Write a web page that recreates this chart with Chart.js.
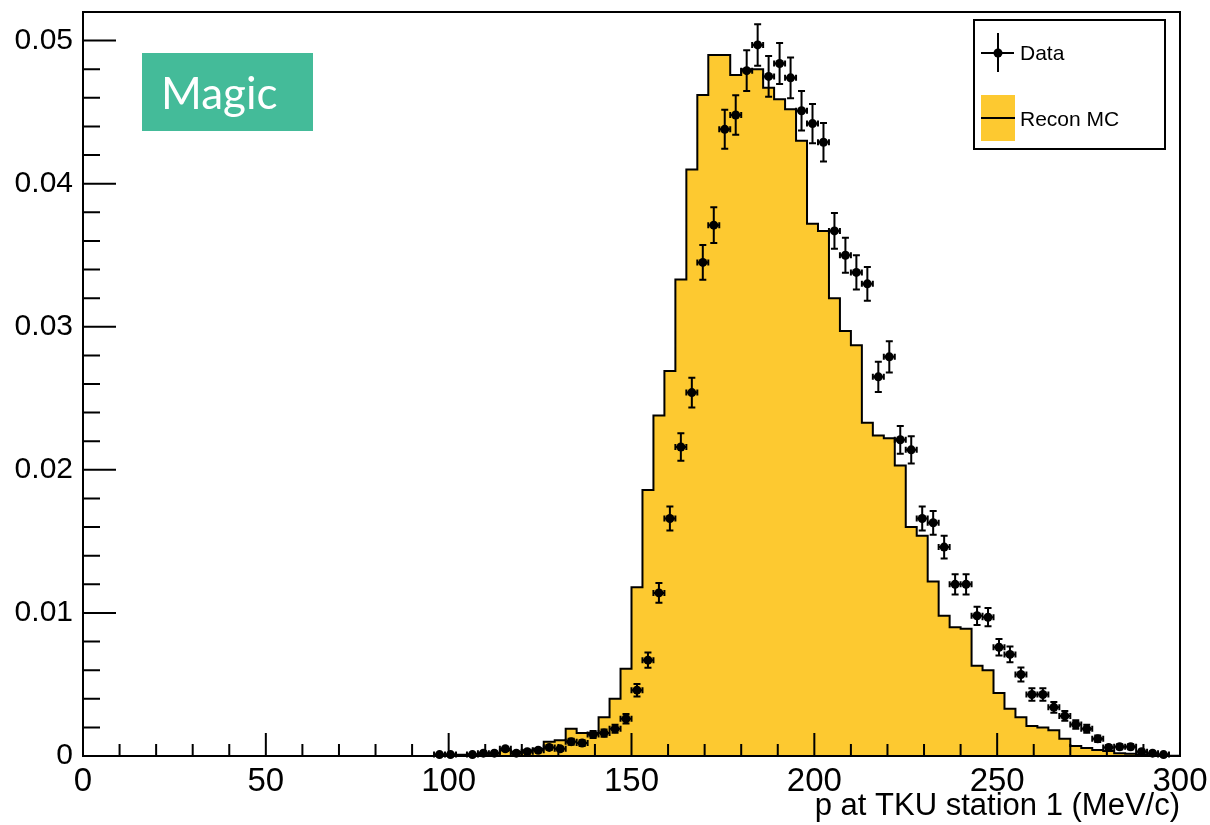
<!DOCTYPE html>
<html>
<head>
<meta charset="utf-8">
<script src="https://cdn.jsdelivr.net/npm/chart.js@4.4.1/dist/chart.umd.min.js"></script>
<style>
  html, body { margin: 0; padding: 0; background: #fff; }
</style>
</head>
<body>
<canvas id="chart" width="1210" height="825"></canvas>
<script>

// MC histogram: left bin edges (last entry closes the final bin) and contents
const mcEdges = [
    96, 99, 102, 105, 108, 111, 114, 117, 120, 123,
    126, 129, 132, 135, 138, 141, 144, 147, 150, 153,
    156, 159, 162, 165, 168, 171, 174, 177, 180, 183,
    186, 189, 192, 195, 198, 201, 204, 207, 210, 213,
    216, 219, 222, 225, 228, 231, 234, 237, 240, 243,
    246, 249, 252, 255, 258, 261, 264, 267, 270, 273,
    276, 279, 282, 285, 288, 291, 294, 297, 300
];
const mcValues = [
    0.00002, 0.00005, 0.00008, 0.0001, 0.00015, 0.0002, 0.0004, 0.0003, 0.0004, 0.0005,
    0.0010, 0.0011, 0.0019, 0.0016, 0.0016, 0.0027, 0.0040, 0.0061, 0.0118, 0.0186,
    0.0238, 0.0269, 0.0333, 0.0410, 0.0462, 0.0490, 0.0490, 0.0476, 0.0480, 0.0480,
    0.0467, 0.0459, 0.0452, 0.0430, 0.0372, 0.0367, 0.0320, 0.0297, 0.0287, 0.0233,
    0.0224, 0.0222, 0.0203, 0.0160, 0.0154, 0.0122, 0.0098, 0.0090, 0.0089, 0.0063,
    0.0060, 0.0044, 0.0033, 0.0027, 0.0021, 0.0020, 0.0018, 0.0012, 0.0007, 0.00056,
    0.00042, 0.00035, 0.0002, 0.00015, 0.0001, 0.00005, 0.00003, 0.00002
];

// Data: bin centres, contents, errors
const dataCenters = [
    97.5, 100.5, 106.5, 109.5, 112.5, 115.5, 118.5, 121.5, 124.5, 127.5,
    130.5, 133.5, 136.5, 139.5, 142.5, 145.5, 148.5, 151.5, 154.5, 157.5,
    160.5, 163.5, 166.5, 169.5, 172.5, 175.5, 178.5, 181.5, 184.5, 187.5,
    190.5, 193.5, 196.5, 199.5, 202.5, 205.5, 208.5, 211.5, 214.5, 217.5,
    220.5, 223.5, 226.5, 229.5, 232.5, 235.5, 238.5, 241.5, 244.5, 247.5,
    250.5, 253.5, 256.5, 259.5, 262.5, 265.5, 268.5, 271.5, 274.5, 277.5,
    280.5, 283.5, 286.5, 289.5, 292.5, 295.5
];
const dataValues = [
    0.0001, 0.0001, 0.0001, 0.0002, 0.0002, 0.0005, 0.0002, 0.0003, 0.0004, 0.0006,
    0.0005, 0.0010, 0.0009, 0.0015, 0.0016, 0.0019, 0.0026, 0.0046, 0.0067, 0.0114,
    0.0166, 0.0216, 0.0254, 0.0345, 0.0371, 0.0438, 0.0448, 0.0479, 0.0497, 0.0475,
    0.0484, 0.0474, 0.0451, 0.0442, 0.0429, 0.0367, 0.0350, 0.0338, 0.0330, 0.0265,
    0.0279, 0.0221, 0.0214, 0.0166, 0.0163, 0.0146, 0.0120, 0.0120, 0.0098, 0.0097,
    0.0076, 0.0071, 0.0057, 0.0043, 0.0043, 0.0034, 0.0028, 0.0022, 0.0019, 0.0012,
    0.0006, 0.00065, 0.00065, 0.0003, 0.0002, 0.0001
];
const dataErrors = [
    0.000065, 0.000065, 0.000065, 0.000092, 0.000092, 0.000145, 0.000092, 0.000113, 0.00013, 0.00016,
    0.000145, 0.00021, 0.0002, 0.00025, 0.00026, 0.00028, 0.00033, 0.00044, 0.00053, 0.00069,
    0.00084, 0.00096, 0.00104, 0.00121, 0.00125, 0.00136, 0.00138, 0.00142, 0.00145, 0.00142,
    0.00143, 0.00142, 0.00138, 0.00137, 0.00135, 0.00125, 0.00122, 0.00119, 0.00118, 0.00106,
    0.00109, 0.00097, 0.00095, 0.00084, 0.00083, 0.00079, 0.00071, 0.00071, 0.00064, 0.00064,
    0.00057, 0.00055, 0.00049, 0.00043, 0.00043, 0.00038, 0.00034, 0.00030, 0.00028, 0.00023,
    0.00016, 0.00017, 0.00017, 0.000113, 0.000092, 0.000065
];
const dataHalfWidth = 1.5;

// axis ticks
const xTicks = [0, 50, 100, 150, 200, 250, 300];
const yTicks = [0, 0.01, 0.02, 0.03, 0.04, 0.05];
const xMinor = Array.from({ length: 31 }, (_, i) => i * 10);
const yMinor = Array.from({ length: 27 }, (_, i) => i * 0.002);
const xTitle = 'p at TKU station 1 (MeV/c)';
const labelData = 'Data';
const labelMC = 'Recon MC';
const tagText = 'Magic';

const yellow = '#fdc930';
const font = '"Liberation Sans", Arial, Helvetica, sans-serif';
Chart.defaults.font.family = font;
Chart.defaults.color = '#000';

// frame and ROOT style inside ticks
const frameTicks = {
    id: 'frameTicks',
    afterDatasetsDraw(chart) {
        const { ctx, chartArea: a, scales: { x, y } } = chart;
        ctx.save();
        ctx.strokeStyle = '#000';
        ctx.lineWidth = 2;
        ctx.beginPath();
        xMinor.forEach(v => {
            const px = x.getPixelForValue(v);
            const len = xTicks.includes(v) ? 23 : 12;
            ctx.moveTo(px, a.bottom);
            ctx.lineTo(px, a.bottom - len);
        });
        yMinor.forEach(v => {
            const py = y.getPixelForValue(v);
            const major = yTicks.some(t => Math.abs(t - v) < 1e-9);
            ctx.moveTo(a.left, py);
            ctx.lineTo(a.left + (major ? 33 : 17), py);
        });
        ctx.stroke();
        ctx.strokeRect(a.left, a.top, a.right - a.left, a.bottom - a.top);
        ctx.restore();
    }
};

// error bars for the data points
const errorBars = {
    id: 'errorBars',
    afterDatasetsDraw(chart) {
        const { ctx, scales: { x, y } } = chart;
        ctx.save();
        ctx.strokeStyle = '#000';
        ctx.lineWidth = 2;
        ctx.beginPath();
        dataCenters.forEach((c, i) => {
            const px = x.getPixelForValue(c);
            const py = y.getPixelForValue(dataValues[i]);
            const yLo = y.getPixelForValue(Math.max(0, dataValues[i] - dataErrors[i]));
            const yHi = y.getPixelForValue(dataValues[i] + dataErrors[i]);
            const xLo = x.getPixelForValue(c - dataHalfWidth);
            const xHi = x.getPixelForValue(c + dataHalfWidth);
            ctx.moveTo(px, yLo); ctx.lineTo(px, yHi);
            ctx.moveTo(px - 3.5, yLo); ctx.lineTo(px + 3.5, yLo);
            ctx.moveTo(px - 3.5, yHi); ctx.lineTo(px + 3.5, yHi);
            ctx.moveTo(xLo, py); ctx.lineTo(xHi, py);
            ctx.moveTo(xLo, py - 3); ctx.lineTo(xLo, py + 3);
            ctx.moveTo(xHi, py - 3); ctx.lineTo(xHi, py + 3);
        });
        ctx.stroke();
        ctx.restore();
    }
};

// green tag and ROOT style legend box
const decorations = {
    id: 'decorations',
    afterDraw(chart) {
        const { ctx } = chart;
        ctx.save();
        ctx.fillStyle = '#44bb99';
        ctx.fillRect(142, 53, 171, 78);
        ctx.fillStyle = '#fff';
        ctx.font = '44px Lato, "Open Sans", sans-serif';
        ctx.textBaseline = 'alphabetic';
        ctx.fillText(tagText, 161, 109);

        ctx.fillStyle = '#fff';
        ctx.fillRect(974, 20, 191, 129);
        ctx.strokeStyle = '#000';
        ctx.lineWidth = 2;
        ctx.strokeRect(974, 20, 191, 129);

        ctx.beginPath();
        ctx.moveTo(981, 53); ctx.lineTo(1014, 53);
        ctx.moveTo(998, 33); ctx.lineTo(998, 72);
        ctx.stroke();
        ctx.beginPath();
        ctx.fillStyle = '#000';
        ctx.arc(998, 53, 4.5, 0, Math.PI * 2);
        ctx.fill();

        ctx.fillStyle = yellow;
        ctx.fillRect(981, 95, 34, 46);
        ctx.beginPath();
        ctx.moveTo(981, 118); ctx.lineTo(1015, 118);
        ctx.stroke();

        ctx.fillStyle = '#000';
        ctx.font = '21px ' + font;
        ctx.textBaseline = 'middle';
        ctx.fillText(labelData, 1020, 54);
        ctx.fillText(labelMC, 1020, 120);
        ctx.restore();
    }
};

const mcPoints = mcEdges.map((e, i) => ({ x: e, y: i < mcValues.length ? mcValues[i] : 0 }));
const dataPoints = dataCenters.map((c, i) => ({ x: c, y: dataValues[i] }));

const ctx = document.getElementById('chart').getContext('2d');
const myChart = new Chart(ctx, {
    type: 'line',
    data: {
        datasets: [{
            label: labelData,
            data: dataPoints,
            showLine: false,
            pointRadius: 4.5,
            pointBackgroundColor: '#000',
            pointBorderWidth: 0,
            clip: false,
            order: 0
        }, {
            label: labelMC,
            data: mcPoints,
            stepped: 'before',
            borderColor: '#000',
            borderWidth: 2,
            backgroundColor: yellow,
            fill: 'origin',
            pointRadius: 0,
            order: 1
        }]
    },
    options: {
        responsive: false,
        animation: false,
        layout: { padding: { top: 12, right: 30, left: 0, bottom: 0 } },
        plugins: {
            legend: { display: false },
            tooltip: { enabled: false }
        },
        scales: {
            x: {
                type: 'linear',
                min: 0,
                max: 300,
                grid: { display: false, drawTicks: false },
                border: { display: false },
                afterBuildTicks: s => { s.ticks = xTicks.map(v => ({ value: v })); },
                afterFit: s => { s.height = 69; s.paddingLeft = 0; s.paddingRight = 0; },
                ticks: {
                    font: { size: 33 },
                    padding: 6,
                    maxRotation: 0,
                    autoSkip: false,
                    callback: v => String(v)
                },
                title: {
                    display: true,
                    text: xTitle,
                    align: 'end',
                    font: { size: 31 },
                    padding: { top: 0, bottom: 0 }
                }
            },
            y: {
                min: 0,
                max: 0.052,
                grid: { display: false, drawTicks: false },
                border: { display: false },
                afterBuildTicks: s => { s.ticks = yTicks.map(v => ({ value: v })); },
                afterFit: s => { s.width = 83; s.paddingTop = 0; s.paddingBottom = 0; },
                ticks: {
                    font: { size: 30 },
                    padding: 10,
                    callback: v => v === 0 ? '0' : v.toFixed(2)
                }
            }
        }
    },
    plugins: [frameTicks, errorBars, decorations]
});

</script>
</body>
</html>
